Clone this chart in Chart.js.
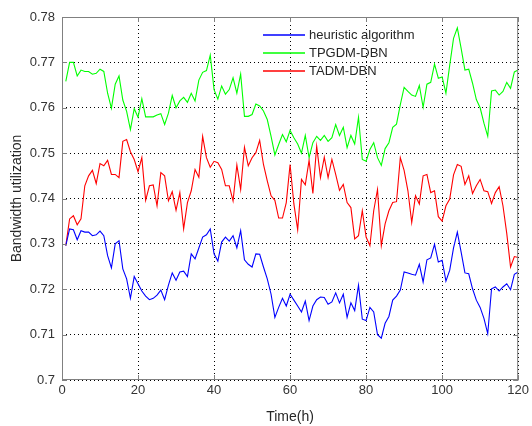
<!DOCTYPE html>
<html>
<head>
<meta charset="utf-8">
<script src="https://cdn.jsdelivr.net/npm/chart.js@4/dist/chart.umd.min.js"></script>
<style>
  html, body { margin: 0; padding: 0; background: #fff; }
  #wrap { width: 532px; height: 426px; position: relative; }
</style>
</head>
<body>
<div id="wrap"><canvas id="chart" width="532" height="426"></canvas></div>
<script>
// hours on the x axis (1..120)
const hours = Array.from({ length: 120 }, (_, i) => i + 1);
const xTicks = [0, 20, 40, 60, 80, 100, 120];
const yTicks = [0.7, 0.71, 0.72, 0.73, 0.74, 0.75, 0.76, 0.77, 0.78];
const seriesNames = ['heuristic algorithm', 'TPGDM-DBN', 'TADM-DBN'];

const heuristic = [
  0.7296, 0.7333, 0.7331, 0.7309, 0.7329, 0.7326, 0.7326, 0.7318, 0.7320, 0.7328,
  0.7318, 0.7274, 0.7247, 0.7300, 0.7307, 0.7245, 0.7223, 0.7180, 0.7228, 0.7212,
  0.7196, 0.7185, 0.7177, 0.7180, 0.7187, 0.7198, 0.7177, 0.7209, 0.7236, 0.7220,
  0.7238, 0.7240, 0.7228, 0.7278, 0.7267, 0.7291, 0.7315, 0.7320, 0.7333, 0.7278,
  0.7262, 0.7304, 0.7315, 0.7306, 0.7318, 0.7291, 0.7329, 0.7265, 0.7255, 0.7249,
  0.7278, 0.7277, 0.7249, 0.7223, 0.7189, 0.7138, 0.7160, 0.7180, 0.7163, 0.7189,
  0.7176, 0.7163, 0.7150, 0.7174, 0.7131, 0.7163, 0.7177, 0.7183, 0.7182, 0.7167,
  0.7172, 0.7192, 0.7170, 0.7189, 0.7138, 0.7170, 0.7153, 0.7209, 0.7134, 0.7131,
  0.7160, 0.7150, 0.7100, 0.7092, 0.7125, 0.7140, 0.7176, 0.7185, 0.7198, 0.7238,
  0.7236, 0.7233, 0.7231, 0.7255, 0.7216, 0.7265, 0.7269, 0.7299, 0.7260, 0.7264,
  0.7218, 0.7242, 0.7291, 0.7326, 0.7282, 0.7236, 0.7234, 0.7201, 0.7176, 0.7160,
  0.7136, 0.7102, 0.7201, 0.7205, 0.7196, 0.7205, 0.7212, 0.7199, 0.7233, 0.7238
];

const tpgdm = [
  0.7658, 0.7700, 0.7700, 0.7670, 0.7683, 0.7680, 0.7680, 0.7674, 0.7676, 0.7685,
  0.7680, 0.7632, 0.7599, 0.7652, 0.7670, 0.7617, 0.7592, 0.7552, 0.7598, 0.7579,
  0.7620, 0.7580, 0.7580, 0.7580, 0.7584, 0.7587, 0.7563, 0.7588, 0.7627, 0.7600,
  0.7615, 0.7623, 0.7612, 0.7632, 0.7615, 0.7661, 0.7678, 0.7682, 0.7716, 0.7640,
  0.7619, 0.7648, 0.7630, 0.7640, 0.7666, 0.7632, 0.7674, 0.7581, 0.7581, 0.7585,
  0.7608, 0.7604, 0.7593, 0.7574, 0.7537, 0.7496, 0.7519, 0.7541, 0.7525, 0.7550,
  0.7534, 0.7520, 0.7500, 0.7539, 0.7490, 0.7523, 0.7537, 0.7528, 0.7539, 0.7526,
  0.7534, 0.7563, 0.7539, 0.7557, 0.7512, 0.7539, 0.7520, 0.7579, 0.7486, 0.7482,
  0.7508, 0.7523, 0.7490, 0.7473, 0.7510, 0.7523, 0.7557, 0.7564, 0.7607, 0.7645,
  0.7636, 0.7628, 0.7625, 0.7649, 0.7601, 0.7652, 0.7656, 0.7696, 0.7665, 0.7668,
  0.7632, 0.7694, 0.7753, 0.7776, 0.7731, 0.7683, 0.7685, 0.7654, 0.7618, 0.7600,
  0.7566, 0.7537, 0.7637, 0.7639, 0.7628, 0.7636, 0.7656, 0.7643, 0.7679, 0.7683
];

const tadm = [
  0.7296, 0.7355, 0.7362, 0.7342, 0.7355, 0.7428, 0.7450, 0.7462, 0.7433, 0.7477,
  0.7472, 0.7484, 0.7453, 0.7453, 0.7446, 0.7526, 0.7530, 0.7503, 0.7486, 0.7459,
  0.7490, 0.7396, 0.7428, 0.7430, 0.7384, 0.7457, 0.7450, 0.7395, 0.7415, 0.7374,
  0.7413, 0.7333, 0.7391, 0.7417, 0.7464, 0.7447, 0.7537, 0.7490, 0.7469, 0.7482,
  0.7479, 0.7464, 0.7428, 0.7428, 0.7395, 0.7474, 0.7420, 0.7513, 0.7472, 0.7490,
  0.7501, 0.7528, 0.7475, 0.7439, 0.7406, 0.7396, 0.7357, 0.7357, 0.7391, 0.7475,
  0.7388, 0.7331, 0.7442, 0.7430, 0.7484, 0.7411, 0.7515, 0.7446, 0.7491, 0.7446,
  0.7486, 0.7453, 0.7418, 0.7431, 0.7391, 0.7380, 0.7311, 0.7318, 0.7373, 0.7315,
  0.7296, 0.7373, 0.7420, 0.7296, 0.7344, 0.7373, 0.7391, 0.7393, 0.7490, 0.7462,
  0.7417, 0.7347, 0.7406, 0.7388, 0.7450, 0.7453, 0.7413, 0.7417, 0.7360, 0.7350,
  0.7384, 0.7399, 0.7452, 0.7475, 0.7471, 0.7431, 0.7450, 0.7411, 0.7428, 0.7442,
  0.7417, 0.7415, 0.7389, 0.7413, 0.7426, 0.7384, 0.7323, 0.7249, 0.7272, 0.7270
];

const colors = ['#0000ff', '#00ff00', '#ff0000'];
const FONT = 'Liberation Sans, Arial, Helvetica, sans-serif';

const toPoints = (arr) => arr.map((v, i) => ({ x: hours[i], y: v }));

// matlab style box with inward ticks + legend without border
const boxPlugin = {
  id: 'box',
  afterDraw(chart) {
    const { ctx, chartArea: a, scales } = chart;
    ctx.save();
    ctx.strokeStyle = '#808080';
    ctx.lineWidth = 1;
    ctx.strokeRect(a.left + 0.5, a.top + 0.5, a.right - a.left - 1, a.bottom - a.top - 1);
    ctx.beginPath();
    xTicks.forEach(t => {
      const x = Math.round(scales.x.getPixelForValue(t)) + 0.5;
      ctx.moveTo(x, a.bottom); ctx.lineTo(x, a.bottom - 5);
      ctx.moveTo(x, a.top); ctx.lineTo(x, a.top + 5);
    });
    yTicks.forEach(t => {
      const y = Math.round(scales.y.getPixelForValue(t)) + 0.5;
      ctx.moveTo(a.left, y); ctx.lineTo(a.left + 5, y);
      ctx.moveTo(a.right, y); ctx.lineTo(a.right - 5, y);
    });
    ctx.stroke();

    // legend
    ctx.font = '13px ' + FONT;
    ctx.textBaseline = 'middle';
    ctx.textAlign = 'left';
    seriesNames.forEach((name, i) => {
      const y = 35 + i * 18;
      ctx.strokeStyle = colors[i];
      ctx.lineWidth = 1.4;
      ctx.beginPath();
      ctx.moveTo(263, y); ctx.lineTo(305, y);
      ctx.stroke();
      ctx.fillStyle = '#262626';
      ctx.fillText(name, 309, y);
    });
    ctx.restore();
  }
};

new Chart(document.getElementById('chart'), {
  type: 'line',
  data: {
    datasets: [
      { label: seriesNames[0], data: toPoints(heuristic), borderColor: colors[0] },
      { label: seriesNames[1], data: toPoints(tpgdm), borderColor: colors[1] },
      { label: seriesNames[2], data: toPoints(tadm), borderColor: colors[2] }
    ].map(d => Object.assign(d, { borderWidth: 1.1, pointRadius: 0, tension: 0, fill: false }))
  },
  options: {
    responsive: false,
    animation: false,
    layout: { padding: { top: 17, right: 11, left: 0, bottom: 0 } },
    plugins: { legend: { display: false }, tooltip: { enabled: false } },
    scales: {
      x: {
        type: 'linear', min: 0, max: 120,
        afterBuildTicks: (s) => { s.ticks = xTicks.map(v => ({ value: v })); },
        afterFit: (s) => { s.height = 46; },
        grid: { color: '#000', lineWidth: 1, drawTicks: false },
        border: { display: false, dash: [1, 3] },
        ticks: { color: '#333', padding: 3, font: { family: FONT, size: 13 }, maxRotation: 0 },
        title: { display: true, text: 'Time(h)', color: '#262626', font: { family: FONT, size: 14 }, padding: { top: 2, bottom: 0 } }
      },
      y: {
        type: 'linear', min: 0.7, max: 0.78,
        afterBuildTicks: (s) => { s.ticks = yTicks.map(v => ({ value: v })); },
        afterFit: (s) => { s.width = 62; },
        grid: { color: '#000', lineWidth: 1, drawTicks: false },
        border: { display: false, dash: [1, 3] },
        ticks: { color: '#333', padding: 7, font: { family: FONT, size: 13 }, callback: (v) => String(+v.toFixed(2)) },
        title: { display: true, text: 'Bandwidth utilization', color: '#262626', font: { family: FONT, size: 14 }, padding: { top: 9, bottom: 0 } }
      }
    }
  },
  plugins: [boxPlugin]
});
</script>
</body>
</html>
